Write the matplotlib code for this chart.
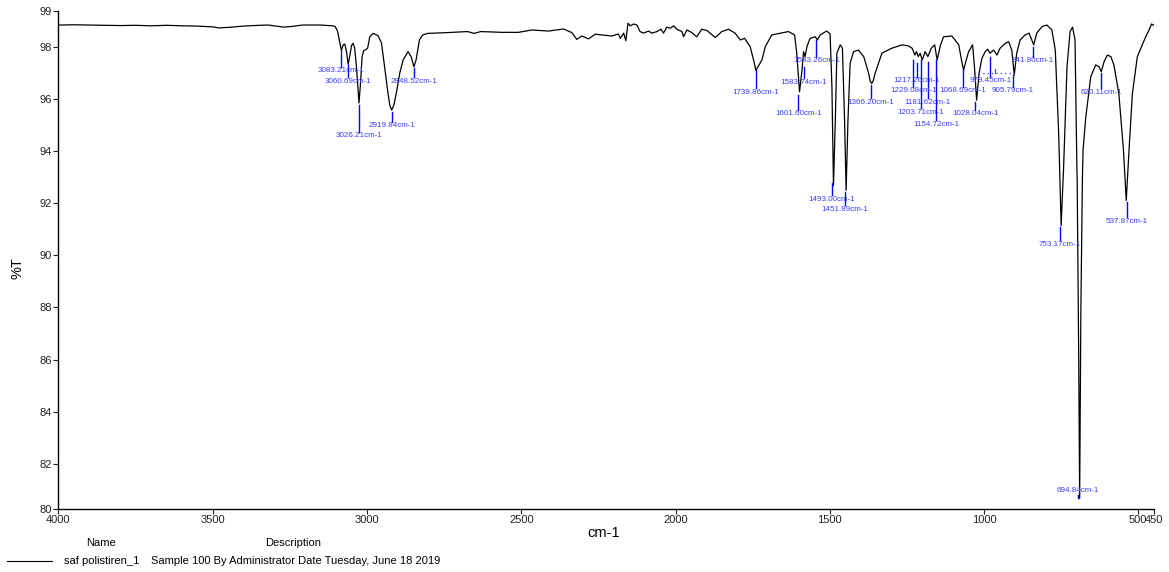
import matplotlib.pyplot as plt
from matplotlib.lines import Line2D

plt.rcParams['font.family'] = ['Liberation Sans', 'DejaVu Sans']

# spectrum: wavenumber (cm-1) and %T
wavenumber = [
    4000, 3950, 3900, 3850, 3800, 3750, 3700, 3650, 3600, 3550, 3500, 3480,
    3450, 3400, 3350, 3320, 3290, 3270, 3240, 3210, 3150, 3110, 3103, 3095,
    3089, 3083, 3077, 3072, 3067, 3061, 3055, 3050, 3045, 3040, 3034, 3026,
    3021, 3016, 3011, 3005, 2998, 2991, 2980, 2969, 2964, 2953, 2943, 2932,
    2926, 2920, 2913, 2905, 2894, 2883, 2867, 2857, 2848, 2841, 2830, 2819,
    2803, 2739, 2674, 2653, 2631, 2563, 2509, 2466, 2411, 2363, 2336, 2320,
    2304, 2282, 2260, 2239, 2206, 2185, 2179, 2168, 2161, 2154, 2147, 2136,
    2125, 2115, 2104, 2087, 2077, 2060, 2047, 2039, 2028, 2017, 2006, 1996,
    1979, 1974, 1963, 1947, 1931, 1915, 1898, 1871, 1850, 1828, 1807, 1790,
    1776, 1758, 1745, 1740, 1734, 1720, 1709, 1688, 1634, 1614, 1607, 1598,
    1590, 1585, 1580, 1574, 1564, 1547, 1540, 1531, 1510, 1499, 1493, 1488,
    1482, 1477, 1466, 1459, 1452, 1447, 1441, 1434, 1423, 1407, 1390, 1374,
    1369, 1364, 1359, 1353, 1331, 1299, 1266, 1245, 1233, 1224, 1219, 1213,
    1207, 1200, 1191, 1182, 1171, 1160, 1152, 1141, 1131, 1104, 1082, 1070,
    1066, 1062, 1050, 1037, 1031, 1024, 1016, 1007, 996, 988, 981, 969,
    958, 948, 931, 920, 910, 902, 894, 883, 867, 854, 839, 829,
    812, 796, 780, 769, 758, 750, 742, 731, 721, 713, 705, 699,
    698, 693, 690, 686, 681, 679, 670, 654, 638, 627, 620, 611,
    600, 589, 579, 563, 548, 539, 530, 519, 503, 487, 476, 465,
    457, 450,
]
transmittance = [
    98.83, 98.84, 98.83, 98.82, 98.81, 98.82, 98.80, 98.82, 98.80, 98.79, 98.76, 98.72,
    98.74, 98.79, 98.82, 98.83, 98.78, 98.75, 98.78, 98.83, 98.83, 98.80, 98.77, 98.58,
    98.20, 97.87, 98.07, 98.10, 97.85, 97.32, 97.70, 98.05, 98.13, 97.95, 97.20, 95.84,
    96.60, 97.60, 97.85, 97.88, 97.94, 98.38, 98.51, 98.45, 98.42, 98.14, 97.24, 96.22,
    95.75, 95.57, 95.76, 96.22, 96.98, 97.49, 97.81, 97.62, 97.23, 97.49, 98.26, 98.45,
    98.51, 98.54, 98.58, 98.51, 98.58, 98.55, 98.55, 98.64, 98.60, 98.68, 98.54, 98.28,
    98.41, 98.30, 98.48, 98.45, 98.41, 98.49, 98.32, 98.52, 98.23, 98.90, 98.80, 98.87,
    98.83, 98.58, 98.52, 98.60, 98.52, 98.58, 98.67, 98.52, 98.75, 98.71, 98.80, 98.67,
    98.58, 98.38, 98.64, 98.54, 98.38, 98.67, 98.62, 98.35, 98.58, 98.67, 98.52, 98.26,
    98.32, 98.00, 97.40, 97.10, 97.20, 97.49, 98.00, 98.45, 98.58, 98.45, 97.75, 96.27,
    97.10, 97.81, 97.62, 98.00, 98.32, 98.38, 98.26, 98.45, 98.60, 98.49, 96.46, 92.68,
    95.18, 97.75, 98.07, 97.94, 95.18, 92.49, 95.18, 97.36, 97.81, 97.87, 97.62, 96.98,
    96.68, 96.59, 96.70, 96.98, 97.75, 97.94, 98.07, 98.03, 97.94, 97.68, 97.81, 97.62,
    97.75, 97.49, 97.81, 97.62, 97.94, 98.07, 97.49, 98.07, 98.38, 98.41, 98.07, 97.30,
    97.10, 97.30, 97.81, 98.07, 97.23, 95.95, 96.98, 97.55, 97.81, 97.90, 97.75, 97.87,
    97.68, 97.94, 98.13, 98.19, 97.87, 96.91, 97.75, 98.26, 98.45, 98.52, 98.07, 98.52,
    98.77, 98.83, 98.64, 97.87, 94.67, 91.14, 93.38, 97.23, 98.58, 98.75, 98.26, 93.38,
    92.87, 86.00, 80.68, 88.00, 93.00, 94.03, 95.31, 96.85, 97.30, 97.23, 97.04, 97.42,
    97.68, 97.62, 97.30, 96.21, 94.03, 92.10, 94.03, 96.21, 97.62, 98.07, 98.38, 98.64,
    98.87, 98.82,
]

# picked peaks, with the ends of their blue marker lines (%T)
peak_nu = [
    3083.21, 3060.69, 3026.21, 2919.84, 2848.52, 1739.86, 1601.60, 1583.74,
    1543.26, 1493.00, 1451.89, 1366.20, 1229.08, 1217.26, 1203.71, 1181.62,
    1154.72, 1068.69, 1028.04, 979.45, 905.79, 841.80, 753.17, 694.84,
    620.11, 537.87,
]
mark_top = [
    97.87, 97.30, 95.76, 95.50, 97.18, 97.10, 96.14, 97.23,
    98.26, 92.76, 92.42, 96.53, 97.49, 97.37, 97.49, 97.42,
    97.49, 97.10, 95.88, 97.62, 96.91, 98.00, 91.08, 80.80,
    97.00, 92.04,
]
mark_bottom = [
    97.22, 96.83, 94.73, 95.12, 96.83, 96.40, 95.57, 96.78,
    97.62, 92.30, 91.91, 96.02, 96.46, 96.85, 95.64, 96.02,
    95.18, 96.46, 95.57, 96.85, 96.46, 97.62, 90.57, 80.69,
    96.40, 91.46,
]

x_ticks = [4000, 3500, 3000, 2500, 2000, 1500, 1000, 500, 450]
y_labels = ["80", "82", "84", "86", "88", "90", "92", "94", "96", "98", "99"]

fig = plt.figure(figsize=(11.69, 5.72), dpi=100)
ax = fig.add_axes([0.05004, 0.11014, 0.93687, 0.87115])

ax.plot(wavenumber, transmittance, color="black", lw=0.9)

ax.set_xlim(4000, 450)
ax.set_ylim(80.27, 99.38)
ax.set_xticks(x_ticks)
ax.set_xticklabels([str(t) for t in x_ticks])
# the instrument puts rounded labels on the axis ends
ax.set_yticks([80.27, 82, 84, 86, 88, 90, 92, 94, 96, 98, 99.38])
ax.set_yticklabels(y_labels)

for side in ["top", "right"]:
    ax.spines[side].set_visible(False)
for side in ["left", "bottom"]:
    ax.spines[side].set_linewidth(1.0)
ax.tick_params(direction="out", length=3.5, width=0.8, labelsize=8, pad=1,
               colors="#222222")

for nu, top, bot in zip(peak_nu, mark_top, mark_bottom):
    ax.plot([nu, nu], [top, bot], color="#0000ff", lw=1.0)
    txt = f"{nu:.2f}cm-1"
    if top < 82:
        ax.annotate(txt, (nu, top), xytext=(0, 0.5), textcoords="offset points",
                    ha="center", va="bottom", fontsize=5.8, color="#3c3cff")
    else:
        ax.annotate(txt, (nu, bot), xytext=(0, -0.3), textcoords="offset points",
                    ha="center", va="top", fontsize=5.8, color="#3c3cff")

# dotted range marker near 979 cm-1
ax.plot([1034, 904], [96.98, 96.98], ls=(0, (1, 2.5)), color="#4040ff", lw=0.9)
ax.plot([965, 965], [96.98, 97.13], color="#4040ff", lw=0.8)

fig.text(604 / 1169, 1 - 533 / 572, "cm-1", ha="center", va="center", fontsize=10.5)
fig.text(17 / 1169, 1 - 268 / 572, "%T", ha="center", va="center", fontsize=10.5,
         rotation=90)

# legend block under the chart
fig.text(101 / 1169, 1 - 543.5 / 572, "Name", ha="center", va="center", fontsize=8)
fig.text(293 / 1169, 1 - 543.5 / 572, "Description", ha="center", va="center", fontsize=8)
fig.add_artist(Line2D([7.3 / 1169, 52.3 / 1169], [1 - 561 / 572, 1 - 561 / 572],
                      color="black", lw=0.8))
fig.text(64.5 / 1169, 1 - 560.5 / 572, "saf polistiren_1", ha="left", va="center",
         fontsize=8)
fig.text(150.7 / 1169, 1 - 560.5 / 572,
         "Sample 100 By Administrator Date Tuesday, June 18 2019",
         ha="left", va="center", fontsize=8)

fig.savefig("out.png", dpi=100)
